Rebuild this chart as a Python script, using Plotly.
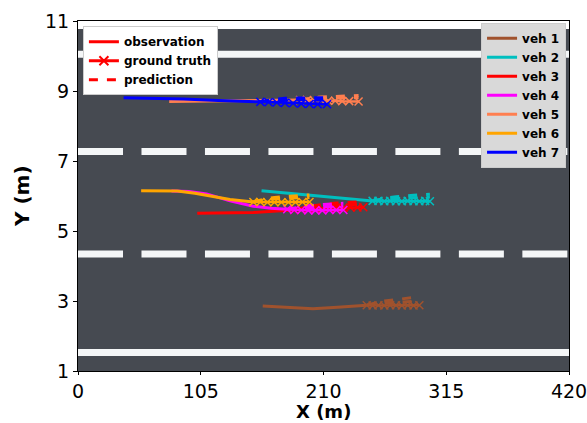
import plotly.graph_objects as go

# ---------------- data ----------------
veh_names = ["veh 1", "veh 2", "veh 3", "veh 4", "veh 5", "veh 6", "veh 7"]
veh_colors = ["#a0522d", "#00bfbf", "#ff0000", "#ff00ff", "#ff7f50", "#ffa500", "#0000ff"]

# observations
obs1_x = [158, 180, 201, 222, 247]
obs1_y = [2.86, 2.82, 2.78, 2.82, 2.88]
obs2_x = [157, 190, 224, 252]
obs2_y = [6.15, 6.05, 5.94, 5.86]
obs3_x = [102, 125, 150, 170, 185]
obs3_y = [5.51, 5.51, 5.53, 5.57, 5.60]
obs4_x = [80, 95, 110, 130, 150, 165, 179]
obs4_y = [6.14, 6.13, 6.06, 5.86, 5.71, 5.65, 5.62]
obs5_x = [78, 110, 150, 190]
obs5_y = [8.70, 8.72, 8.73, 8.74]
obs6_x = [54, 70, 85, 100, 115, 130, 150]
obs6_y = [6.15, 6.15, 6.14, 6.08, 5.98, 5.90, 5.83]
obs7_x = [39, 60, 90, 120, 156]
obs7_y = [8.81, 8.80, 8.77, 8.73, 8.69]

# ground truth
gt1_x = [247, 252, 257, 262, 267, 272, 277, 282, 287, 292]
gt1_y = [2.88, 2.87, 2.88, 2.87, 2.88, 2.88, 2.87, 2.88, 2.87, 2.88]
gt2_x = [252, 257, 262, 267, 272, 277, 282, 287, 292, 297, 301]
gt2_y = [5.86, 5.86, 5.85, 5.86, 5.85, 5.85, 5.86, 5.85, 5.85, 5.86, 5.85]
gt3_x = [185, 191, 197, 203, 209, 215, 221, 227, 233, 239, 244]
gt3_y = [5.60, 5.61, 5.62, 5.63, 5.64, 5.65, 5.66, 5.66, 5.67, 5.67, 5.68]
gt4_x = [179, 185, 191, 197, 203, 209, 215, 221, 227]
gt4_y = [5.62, 5.60, 5.60, 5.59, 5.59, 5.59, 5.60, 5.60, 5.60]
gt5_x = [190, 196, 202, 208, 214, 220, 226, 232, 240]
gt5_y = [8.74, 8.74, 8.73, 8.73, 8.72, 8.72, 8.71, 8.71, 8.70]
gt6_x = [150, 156, 162, 168, 174, 180, 186, 192, 198]
gt6_y = [5.83, 5.83, 5.82, 5.82, 5.82, 5.82, 5.82, 5.83, 5.83]
gt7_x = [156, 163, 170, 177, 184, 191, 198, 205, 213]
gt7_y = [8.69, 8.68, 8.67, 8.66, 8.65, 8.64, 8.63, 8.62, 8.62]

# predictions (two samples per vehicle, on the ground-truth x positions)
pa1_y = [2.88, 2.91, 2.93, 2.94, 2.95, 2.96, 2.97, 2.98, 2.99, 3.00]
pb1_y = [2.88, 2.93, 2.97, 3.00, 3.02, 3.04, 3.06, 3.08, 3.10, 3.12]
pa2_y = [5.86, 5.89, 5.91, 5.92, 5.93, 5.94, 5.95, 5.95, 5.96, 5.96, 5.97]
pb2_y = [5.86, 5.90, 5.93, 5.96, 5.98, 6.00, 6.01, 6.02, 6.03, 6.04, 6.05]
pa3_y = [5.60, 5.64, 5.67, 5.69, 5.71, 5.72, 5.73, 5.74, 5.75, 5.75, 5.76]
pb3_y = [5.60, 5.66, 5.70, 5.73, 5.76, 5.78, 5.80, 5.81, 5.82, 5.83, 5.84]
pa4_y = [5.62, 5.64, 5.66, 5.67, 5.68, 5.69, 5.70, 5.70, 5.71]
pb4_y = [5.62, 5.66, 5.69, 5.72, 5.74, 5.76, 5.77, 5.78, 5.79]
pa5_y = [8.74, 8.77, 8.78, 8.79, 8.79, 8.80, 8.80, 8.80, 8.81]
pb5_y = [8.74, 8.78, 8.81, 8.83, 8.84, 8.85, 8.86, 8.86, 8.87]
pa6_y = [5.83, 5.87, 5.90, 5.92, 5.93, 5.94, 5.95, 5.95, 5.96]
pb6_y = [5.83, 5.89, 5.93, 5.96, 5.98, 6.00, 6.01, 6.02, 6.03]
pa7_y = [8.69, 8.71, 8.73, 8.74, 8.75, 8.75, 8.75, 8.74, 8.74]
pb7_y = [8.69, 8.74, 8.77, 8.79, 8.80, 8.81, 8.81, 8.81, 8.80]

# road geometry
road_y = [1.0, 10.77]
solid_lane_y = [10.05, 1.53]
dashed_lane_y = [7.27, 4.34]
dash_starts = [0, 54.3, 108.6, 162.9, 217.2, 271.5, 325.8, 380.1]
dash_len = 38.5
lane_half_width = 0.1

x_ticks = [0, 105, 210, 315, 420]
y_ticks = [1, 3, 5, 7, 9, 11]

# ---------------- figure ----------------
obs = [(obs1_x, obs1_y), (obs2_x, obs2_y), (obs3_x, obs3_y), (obs4_x, obs4_y),
       (obs5_x, obs5_y), (obs6_x, obs6_y), (obs7_x, obs7_y)]
gts = [(gt1_x, gt1_y), (gt2_x, gt2_y), (gt3_x, gt3_y), (gt4_x, gt4_y),
       (gt5_x, gt5_y), (gt6_x, gt6_y), (gt7_x, gt7_y)]
preds = [(pa1_y, pb1_y), (pa2_y, pb2_y), (pa3_y, pb3_y), (pa4_y, pb4_y),
         (pa5_y, pb5_y), (pa6_y, pb6_y), (pa7_y, pb7_y)]

fig = go.Figure()

for i, name in enumerate(veh_names):
    c = veh_colors[i]
    ox, oy = obs[i]
    gx, gy = gts[i]
    fig.add_trace(go.Scatter(x=ox, y=oy, mode="lines", line=dict(color=c, width=3),
                             showlegend=False, hoverinfo="skip"))
    fig.add_trace(go.Scatter(x=gx, y=gy, mode="lines+markers", line=dict(color=c, width=2.5),
                             marker=dict(symbol="x-thin", size=8, line=dict(width=1.5, color=c)),
                             showlegend=False, hoverinfo="skip"))
    for py in preds[i]:
        fig.add_trace(go.Scatter(x=gx, y=py, mode="lines", line=dict(color=c, width=3, dash="dash"),
                                 showlegend=False, hoverinfo="skip"))

# legend 1: line styles
fig.add_trace(go.Scatter(x=[None], y=[None], mode="lines", name="<b>observation</b>",
                         line=dict(color="red", width=3), legend="legend"))
fig.add_trace(go.Scatter(x=[None], y=[None], mode="lines+markers", name="<b>ground truth</b>",
                         line=dict(color="red", width=3),
                         marker=dict(symbol="x-thin", size=9, line=dict(width=2, color="red")),
                         legend="legend"))
fig.add_trace(go.Scatter(x=[None], y=[None], mode="lines", name="<b>prediction</b>",
                         line=dict(color="red", width=3, dash="dash"), legend="legend"))
# legend 2: vehicles
for name, c in zip(veh_names, veh_colors):
    fig.add_trace(go.Scatter(x=[None], y=[None], mode="lines", name="<b>" + name + "</b>",
                             line=dict(color=c, width=3), legend="legend2"))

# road background and lane markings
shapes = [dict(type="rect", xref="x", yref="y", x0=x_ticks[0], x1=x_ticks[-1],
               y0=road_y[0], y1=road_y[1], fillcolor="#464a51", line=dict(width=0), layer="below")]
for ly in solid_lane_y:
    shapes.append(dict(type="rect", xref="x", yref="y", x0=x_ticks[0], x1=x_ticks[-1],
                       y0=ly - lane_half_width, y1=ly + lane_half_width,
                       fillcolor="#f4f6f7", line=dict(width=0), layer="below"))
for ly in dashed_lane_y:
    for xs in dash_starts:
        shapes.append(dict(type="rect", xref="x", yref="y", x0=xs, x1=min(xs + dash_len, x_ticks[-1]),
                           y0=ly - lane_half_width, y1=ly + lane_half_width,
                           fillcolor="#f4f6f7", line=dict(width=0), layer="below"))

font = "DejaVu Sans"
fig.update_layout(
    width=587, height=423,
    margin=dict(l=78, r=18, t=21, b=52),
    paper_bgcolor="white", plot_bgcolor="white",
    shapes=shapes,
    font=dict(family=font, color="black"),
    legend=dict(x=0.01, y=0.985, xanchor="left", yanchor="top",
                bgcolor="white", bordercolor="#cccccc", borderwidth=1,
                font=dict(family=font, size=12, color="black"),
                tracegroupgap=0, itemwidth=30),
    legend2=dict(x=0.994, y=0.995, xanchor="right", yanchor="top",
                 bgcolor="#d9d9d9", bordercolor="#cccccc", borderwidth=1,
                 font=dict(family=font, size=12, color="black"),
                 tracegroupgap=0, itemwidth=30),
    xaxis=dict(range=[x_ticks[0], x_ticks[-1]], tickvals=x_ticks, ticktext=[str(v) for v in x_ticks],
               automargin=False, ticklabeloverflow="allow",
               showgrid=False, zeroline=False, showline=True, linecolor="black", linewidth=1,
               mirror=True, ticks="outside", ticklen=3, tickcolor="black",
               tickfont=dict(family=font, size=19, color="black")),
    yaxis=dict(range=[y_ticks[0], y_ticks[-1]], tickvals=y_ticks, ticktext=[str(v) for v in y_ticks],
               automargin=False, ticklabeloverflow="allow",
               showgrid=False, zeroline=False, showline=True, linecolor="black", linewidth=1,
               mirror=True, ticks="outside", ticklen=4, tickcolor="black",
               tickfont=dict(family=font, size=19, color="black")),
    annotations=[
        dict(text="<b>X (m)</b>", xref="paper", yref="paper", x=0.5, y=0, xanchor="center",
             yanchor="top", yshift=-29, borderpad=0, showarrow=False,
             font=dict(family=font, size=18, color="black")),
        dict(text="<b>Y (m)</b>", xref="paper", yref="paper", x=0, y=0.5, xanchor="right",
             yanchor="middle", xshift=-42, textangle=-90, showarrow=False,
             font=dict(family=font, size=20, color="black")),
    ],
)

fig.write_html("out.html", config={"displayModeBar": False},
               post_script="document.body.style.margin='0';")
